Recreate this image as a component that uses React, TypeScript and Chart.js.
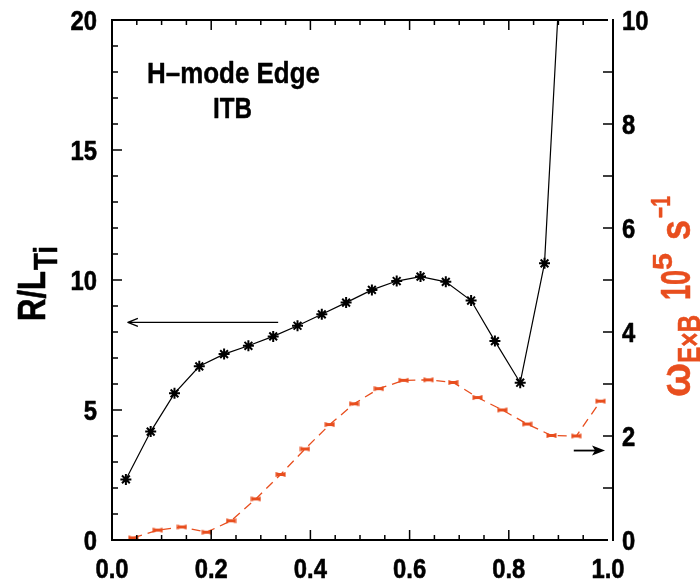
import React, { useEffect, useRef } from 'react';
import { Chart, registerables } from 'chart.js';

Chart.register(...registerables);

// ---- data ----
const rhoRLTi = [0.028, 0.078, 0.126, 0.176, 0.226, 0.275, 0.325, 0.374, 0.423, 0.472, 0.524, 0.574, 0.622, 0.673, 0.724, 0.772, 0.823, 0.872, 0.925];
const rltiValues = [2.33, 4.17, 5.64, 6.68, 7.15, 7.47, 7.83, 8.24, 8.68, 9.13, 9.62, 9.96, 10.13, 9.93, 9.21, 7.65, 6.05, 10.64, 29.4];

const rhoWExB = [0.043, 0.092, 0.141, 0.191, 0.240, 0.290, 0.340, 0.389, 0.439, 0.488, 0.538, 0.588, 0.638, 0.688, 0.737, 0.787, 0.837, 0.886, 0.936, 0.985];
const wexbValues = [0.04, 0.19, 0.25, 0.15, 0.37, 0.79, 1.26, 1.75, 2.22, 2.62, 2.91, 3.07, 3.08, 3.03, 2.74, 2.50, 2.23, 2.01, 2.00, 2.67];

const xTickLabels = [0, 0.2, 0.4, 0.6, 0.8, 1.0];
const leftTickLabels = [0, 5, 10, 15, 20];
const rightTickLabels = [0, 2, 4, 6, 8, 10];

// arrows in data units
const leftArrow = { xFrom: 0.335, xTo: 0.032, y: 8.37, axis: 'y' };
const rightArrow = { xFrom: 0.931, xTo: 0.994, y: 1.72, axis: 'y1' };

const RED = 'rgb(232,78,30)';
const FONT = '"Liberation Sans", Arial, Helvetica, sans-serif';

function fitText(ctx: CanvasRenderingContext2D, text: string, size: number, x: number, y: number, w: number, align: 'left' | 'center' | 'right', stroke = 0) {
  ctx.save();
  ctx.font = `bold ${size}px ${FONT}`;
  const m = ctx.measureText(text).width;
  const hs = w / m;
  let left = x;
  if (align === 'center') left = x - w / 2;
  if (align === 'right') left = x - w;
  ctx.translate(left, y);
  ctx.scale(hs, 1);
  ctx.textAlign = 'left';
  ctx.textBaseline = 'alphabetic';
  ctx.fillText(text, 0, 0);
  if (stroke > 0) { ctx.lineWidth = stroke; ctx.strokeStyle = ctx.fillStyle as string; ctx.strokeText(text, 0, 0); }
  ctx.restore();
}

function scaledText(ctx: CanvasRenderingContext2D, text: string, size: number, hs: number, x: number, y: number, align: 'left' | 'center' | 'right', stroke = 0) {
  ctx.save();
  ctx.font = `bold ${size}px ${FONT}`;
  const w = ctx.measureText(text).width * hs;
  let left = x;
  if (align === 'center') left = x - w / 2;
  if (align === 'right') left = x - w;
  ctx.translate(left, y);
  ctx.scale(hs, 1);
  ctx.textAlign = 'left';
  ctx.fillText(text, 0, 0);
  if (stroke > 0) { ctx.lineWidth = stroke; ctx.strokeStyle = ctx.fillStyle as string; ctx.strokeText(text, 0, 0); }
  ctx.restore();
}

function rotRun(ctx: CanvasRenderingContext2D, text: string, size: number, baseX: number, y0: number, y1: number, stroke = 0) {
  ctx.save();
  ctx.font = `bold ${size}px ${FONT}`;
  const m = ctx.measureText(text).width;
  const hs = (y0 - y1) / m;
  ctx.translate(baseX, y0);
  ctx.rotate(-Math.PI / 2);
  ctx.scale(hs, 1);
  ctx.textAlign = 'left';
  ctx.textBaseline = 'alphabetic';
  ctx.fillText(text, 0, 0);
  if (stroke > 0) { ctx.lineWidth = stroke; ctx.strokeStyle = ctx.fillStyle as string; ctx.strokeText(text, 0, 0); }
  ctx.restore();
}

const framePlugin = {
  id: 'frame',
  afterDraw(chart: any) {
    const ctx: CanvasRenderingContext2D = chart.ctx;
    const { left, right, top, bottom } = chart.chartArea;
    const xs = chart.scales.x;
    const yl = chart.scales.y;
    const yr = chart.scales.y1;
    const rAxis = right + 5;
    ctx.save();
    ctx.strokeStyle = '#000';
    ctx.fillStyle = '#000';
    ctx.lineCap = 'butt';
    ctx.lineJoin = 'round';
    // frame lines
    ctx.lineWidth = 2;
    ctx.beginPath();
    ctx.moveTo(left, top - 1); ctx.lineTo(left, bottom + 1);
    ctx.moveTo(left - 1, bottom); ctx.lineTo(right, bottom);
    ctx.moveTo(left - 1, top); ctx.lineTo(right, top);
    ctx.moveTo(rAxis, top - 1); ctx.lineTo(rAxis, bottom + 1);
    ctx.stroke();
    // ticks
    ctx.lineWidth = 1.5;
    ctx.beginPath();
    for (let i = 1; i < 20; i++) {
      const px = xs.getPixelForValue(i * 0.05);
      const len = i % 4 === 0 ? 10 : 5;
      ctx.moveTo(px, bottom); ctx.lineTo(px, bottom - len);
      ctx.moveTo(px, top); ctx.lineTo(px, top + len);
    }
    for (let i = 1; i < 20; i++) {
      const py = yl.getPixelForValue(i);
      const len = i % 5 === 0 ? 10 : 6;
      ctx.moveTo(left, py); ctx.lineTo(left + len, py);
    }
    for (let i = 1; i < 10; i++) {
      const py = yr.getPixelForValue(i);
      ctx.moveTo(rAxis, py); ctx.lineTo(rAxis - 10, py);
    }
    ctx.stroke();

    // tick labels
    const tSize = 28, tHs = 0.85, capHalf = 0.716 * 28 / 2;
    xTickLabels.forEach((v) => {
      scaledText(ctx, v.toFixed(1), tSize, tHs, xs.getPixelForValue(v), 578, 'center', 0.6);
    });
    leftTickLabels.forEach((v) => {
      scaledText(ctx, String(v), tSize, tHs, left - 15, yl.getPixelForValue(v) + capHalf, 'right', 0.6);
    });
    rightTickLabels.forEach((v) => {
      scaledText(ctx, String(v), tSize, tHs, rAxis + 9, yr.getPixelForValue(v) + capHalf, 'left', 0.6);
    });

    // axis titles
    rotRun(ctx, 'R/L', 39, 45, 321, 271, 0.6);
    rotRun(ctx, 'Ti', 33, 57, 270, 246, 0.5);
    ctx.fillStyle = RED;
    rotRun(ctx, 'ω', 42, 690, 397, 363, 0.5);
    rotRun(ctx, 'E×B', 32, 700, 363, 315, 0.5);
    rotRun(ctx, '10', 42, 690, 300, 270, 0.5);
    rotRun(ctx, '5', 28, 672, 270, 253, 0.4);
    rotRun(ctx, 's', 42, 690, 240, 220, 0.5);
    rotRun(ctx, '−1', 28, 670, 218, 196, 0.4);

    // annotation text
    ctx.fillStyle = '#000';
    fitText(ctx, 'H–mode Edge', 29, 233.5, 83, 173, 'center', 0.4);
    fitText(ctx, 'ITB', 29, 232.5, 118, 39, 'center', 0.4);

    // arrows
    ctx.strokeStyle = '#000';
    ctx.fillStyle = '#000';
    {
      const y = chart.scales[leftArrow.axis].getPixelForValue(leftArrow.y);
      const x0 = xs.getPixelForValue(leftArrow.xFrom);
      const x1 = xs.getPixelForValue(leftArrow.xTo);
      ctx.lineWidth = 1.3;
      ctx.beginPath();
      ctx.moveTo(x0, y); ctx.lineTo(x1, y);
      ctx.moveTo(x1 + 10, y - 4); ctx.lineTo(x1, y); ctx.lineTo(x1 + 10, y + 4);
      ctx.stroke();
    }
    {
      const y = chart.scales[rightArrow.axis].getPixelForValue(rightArrow.y);
      const x0 = xs.getPixelForValue(rightArrow.xFrom);
      const x1 = xs.getPixelForValue(rightArrow.xTo);
      ctx.lineWidth = 1.8;
      ctx.beginPath();
      ctx.moveTo(x0, y); ctx.lineTo(x1 - 8, y);
      ctx.stroke();
      ctx.beginPath();
      ctx.moveTo(x1, y); ctx.lineTo(x1 - 13, y - 5); ctx.lineTo(x1 - 10, y); ctx.lineTo(x1 - 13, y + 5);
      ctx.closePath();
      ctx.fill();
    }
    ctx.restore();
  },
};

function makeRedMarker(): HTMLCanvasElement {
  const c = document.createElement('canvas');
  c.width = 11; c.height = 7;
  const g = c.getContext('2d')!;
  g.fillStyle = RED;
  // bow-tie like marker
  g.beginPath();
  g.moveTo(0.5, 1); g.lineTo(5.5, 2.5); g.lineTo(10.5, 1); g.lineTo(10.5, 6); g.lineTo(5.5, 4.5); g.lineTo(0.5, 6);
  g.closePath();
  g.fill();
  g.fillRect(2, 2, 7, 3);
  return c;
}

export default function App() {
  const ref = useRef<HTMLCanvasElement | null>(null);
  useEffect(() => {
    document.body.style.margin = '0';
    const canvas = ref.current!;
    const chart = new Chart(canvas, {
      type: 'line',
      data: {
        datasets: [
          {
            data: rhoRLTi.map((x, i) => ({ x, y: rltiValues[i] })),
            yAxisID: 'y',
            borderColor: '#000',
            backgroundColor: '#000',
            borderWidth: 1.2,
            pointStyle: 'star',
            pointRadius: 5.5,
            pointBorderWidth: 2,
            pointBorderColor: '#000',
            tension: 0,
          },
          {
            data: rhoWExB.map((x, i) => ({ x, y: wexbValues[i] })),
            yAxisID: 'y1',
            borderColor: RED,
            backgroundColor: RED,
            borderWidth: 1.3,
            borderDash: [9, 6],
            pointStyle: makeRedMarker() as any,
            pointRadius: 4,
            tension: 0,
          },
        ],
      },
      options: {
        animation: false,
        responsive: false,
        devicePixelRatio: 1,
        layout: { padding: { left: 112, right: 92, top: 20, bottom: 42 } },
        plugins: { legend: { display: false }, tooltip: { enabled: false } },
        scales: {
          x: { type: 'linear', min: 0, max: 1, display: false },
          y: { type: 'linear', position: 'left', min: 0, max: 20, display: false },
          y1: { type: 'linear', position: 'right', min: 0, max: 10, display: false },
        },
      },
      plugins: [framePlugin],
    } as any);
    return () => chart.destroy();
  }, []);
  return (
    <div style={{ width: 700, height: 582, background: '#fff' }}>
      <canvas ref={ref} width={700} height={582} style={{ display: 'block', width: 700, height: 582 }} />
    </div>
  );
}
